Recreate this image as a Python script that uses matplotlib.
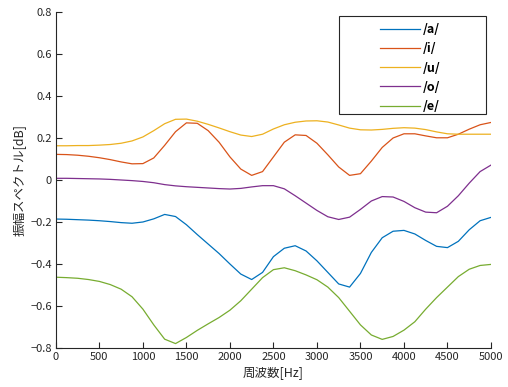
import numpy as np
import matplotlib
matplotlib.use("Agg")
import matplotlib.pyplot as plt
from matplotlib.patches import Rectangle

plt.rcParams['font.family'] = ['Noto Sans CJK JP', 'DejaVu Sans']

# 周波数 [Hz]
freq = np.arange(0, 5001, 125)

spec_a = [-0.186, -0.187, -0.189, -0.191, -0.194, -0.198, -0.203, -0.206, -0.200, -0.185,
          -0.164, -0.174, -0.213, -0.260, -0.305, -0.350, -0.400, -0.448, -0.474, -0.440,
          -0.365, -0.325, -0.313, -0.338, -0.385, -0.440, -0.495, -0.510, -0.445, -0.345,
          -0.275, -0.244, -0.240, -0.257, -0.288, -0.316, -0.322, -0.292, -0.237, -0.194,
          -0.178]
spec_i = [0.122, 0.121, 0.118, 0.113, 0.106, 0.097, 0.086, 0.077, 0.078, 0.105,
          0.165, 0.230, 0.272, 0.270, 0.235, 0.180, 0.110, 0.052, 0.022, 0.040,
          0.110, 0.180, 0.215, 0.212, 0.175, 0.120, 0.062, 0.022, 0.030, 0.090,
          0.155, 0.200, 0.220, 0.220, 0.210, 0.201, 0.201, 0.218, 0.242, 0.263,
          0.274]
spec_u = [0.163, 0.163, 0.164, 0.164, 0.166, 0.169, 0.175, 0.186, 0.205, 0.235,
          0.268, 0.289, 0.290, 0.280, 0.265, 0.248, 0.230, 0.214, 0.207, 0.218,
          0.243, 0.263, 0.275, 0.281, 0.282, 0.276, 0.262, 0.247, 0.239, 0.238,
          0.241, 0.246, 0.249, 0.247, 0.240, 0.229, 0.220, 0.218, 0.218, 0.218,
          0.218]
spec_o = [0.008, 0.008, 0.007, 0.006, 0.005, 0.003, 0.000, -0.003, -0.007, -0.013,
          -0.022, -0.028, -0.032, -0.035, -0.038, -0.041, -0.043, -0.040, -0.033, -0.027,
          -0.027, -0.042, -0.075, -0.110, -0.145, -0.175, -0.188, -0.177, -0.140, -0.100,
          -0.079, -0.081, -0.102, -0.132, -0.153, -0.156, -0.125, -0.075, -0.015, 0.040,
          0.071]
spec_e = [-0.463, -0.465, -0.468, -0.474, -0.483, -0.498, -0.520, -0.556, -0.615, -0.690,
          -0.758, -0.779, -0.750, -0.716, -0.685, -0.655, -0.620, -0.575, -0.520, -0.465,
          -0.427, -0.418, -0.432, -0.452, -0.475, -0.510, -0.560, -0.625, -0.690, -0.738,
          -0.759, -0.745, -0.715, -0.675, -0.615, -0.560, -0.510, -0.460, -0.425, -0.407,
          -0.402]

labels = ['/a/', '/i/', '/u/', '/o/', '/e/']
colors = ['#0072BD', '#D95319', '#EDB120', '#7E2F8E', '#77AC30']
txt = '#262626'

fig = plt.figure(figsize=(5.08, 3.87), dpi=100)
ax = fig.add_axes([0.110, 0.1008, 0.8565, 0.8682])

for y, lab, c in zip([spec_a, spec_i, spec_u, spec_o, spec_e], labels, colors):
    ax.plot(freq, y, color=c, lw=0.9, label=lab)

ax.set_xlim(0, 5000)
ax.set_ylim(-0.8, 0.8)
ax.set_xticks(np.arange(0, 5001, 500))
ax.set_yticks(np.arange(-0.8, 0.81, 0.2))
ax.set_yticklabels(['−0.8', '−0.6', '−0.4', '−0.2', '0', '0.2', '0.4', '0.6', '0.8'])
ax.spines['top'].set_visible(False)
ax.spines['right'].set_visible(False)
for s in ['left', 'bottom']:
    ax.spines[s].set_color(txt)
    ax.spines[s].set_linewidth(0.8)
ax.tick_params(direction='in', length=4, width=0.8, colors=txt, labelsize=8, pad=3)

ax.set_xlabel('周波数[Hz]', fontsize=9, color=txt, labelpad=3)
ax.set_ylabel('振幅スペクトル[dB]', fontsize=9, color=txt, labelpad=3)

leg = ax.legend(loc='upper left', bbox_to_anchor=(0.744, 0.967), frameon=False,
                prop={'size': 9, 'weight': 'bold'}, handlelength=3.2,
                handletextpad=0.25, labelspacing=0.5, borderaxespad=0, borderpad=0)
for t in leg.get_texts():
    t.set_color('black')
ax.add_patch(Rectangle((0.651, 0.696), 0.3375, 0.292, transform=ax.transAxes,
                       fill=False, edgecolor='#262626', lw=0.8, clip_on=False))

fig.savefig('out.png', dpi=100)
